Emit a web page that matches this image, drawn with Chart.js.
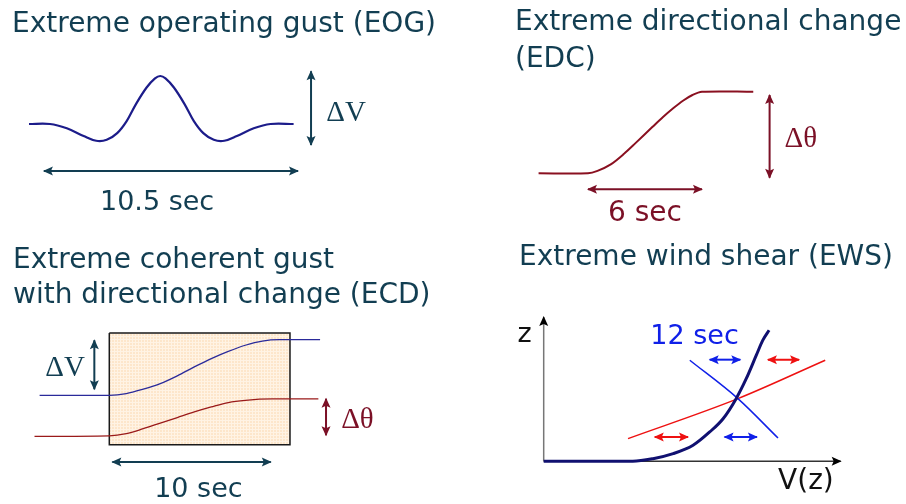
<!DOCTYPE html>
<html>
<head>
<meta charset="utf-8">
<script src="https://cdn.jsdelivr.net/npm/chart.js@4/dist/chart.umd.min.js"></script>
<style>
body { margin: 0; background: #fff; width: 906px; height: 504px; position: relative; overflow: hidden; }
canvas.panel { position: absolute; }
.title { position: absolute; font-family: "Comic Sans MS", "DejaVu Sans", sans-serif; font-size: 28px; line-height: 36px; color: #123e52; white-space: nowrap; }
</style>
</head>
<body>
<canvas id="cEog" class="panel" style="left:0;top:0" width="453" height="252"></canvas>
<canvas id="cEdc" class="panel" style="left:453px;top:0" width="453" height="252"></canvas>
<canvas id="cEcd" class="panel" style="left:0;top:252px" width="453" height="252"></canvas>
<canvas id="cEws" class="panel" style="left:453px;top:252px" width="453" height="252"></canvas>

<div class="title" style="left:12px;top:5px">Extreme operating gust (EOG)</div>
<div class="title" style="left:515px;top:2px;line-height:37px">Extreme directional change<br>(EDC)</div>
<div class="title" style="left:13px;top:241px;line-height:35px">Extreme coherent gust<br>with directional change (ECD)</div>
<div class="title" style="left:519px;top:238px">Extreme wind shear (EWS)</div>

<script>
// EOG - wind speed against time (s), relative to the gust amplitude
const eogTime = [-1, 0, 0.8, 1.6, 2.2, 2.7, 3.2, 3.65, 4.1, 4.6, 5.0, 5.25, 5.5, 5.9, 6.4, 6.85, 7.3, 7.8, 8.3, 8.9, 9.7, 10.5, 11.6];
const eogSpeed = [0, 0, -0.09, -0.25, -0.35, -0.33, -0.19, 0.06, 0.42, 0.76, 0.95, 1.0, 0.95, 0.76, 0.42, 0.06, -0.19, -0.33, -0.35, -0.25, -0.09, 0, 0];

// EDC - wind direction against time (s), relative to the change
const edcTime = [-2.6, 0, 0.5, 1.2, 1.9, 2.5, 3.4, 3.95, 4.5, 5.0, 5.5, 6.0, 8.7];
const edcAngle = [0, 0, 0.03, 0.11, 0.24, 0.37, 0.57, 0.69, 0.80, 0.89, 0.96, 1, 1];

// ECD - speed (blue) and direction (red) against time (s)
const ecdTime = [-4.1, 0, 1, 2, 3, 4, 5, 6, 7, 8, 9, 10, 12.4];
const ecdSpeed = [0, 0, 0.03, 0.11, 0.21, 0.35, 0.51, 0.66, 0.79, 0.9, 0.975, 1.0, 1.0];
const ecdDirTime = [-4.4, 0, 1, 2, 3, 4, 5, 6, 7, 8, 9.6, 12.3];
const ecdDir = [-0.74, -0.73, -0.69, -0.6, -0.5, -0.4, -0.3, -0.21, -0.13, -0.09, -0.066, -0.066];
const ecdWindowTime = [0, 10.63, 10.63, 0, 0];
const ecdWindowLevel = [1.12, 1.12, -0.89, -0.89, 1.12];

// EWS - height z against speed V(z)
const ewsSpeed = [0, 3.0, 3.68, 4.36, 5.03, 5.59, 6.04, 6.48, 6.82, 7.16, 7.38, 7.59];
const ewsHeight = [0, 0, 0.18, 0.53, 1.11, 2.03, 2.95, 4.34, 5.72, 7.35, 8.39, 9.08];
const shearBlueV = [4.92, 6.54, 7.89];
const shearBlueZ = [7.0, 4.34, 1.61];
const shearRedV = [2.84, 6.54, 9.48];
const shearRedZ = [1.57, 4.34, 7.0];

const TEAL = '#123e52';
const MAROON = '#7b1026';
const COMIC = '"Comic Sans MS", "DejaVu Sans", sans-serif';
const SERIF = '"Liberation Serif", "Times New Roman", serif';

function pts(xs, ys) {
    return xs.map((x, i) => ({ x: x, y: ys[i] }));
}

function curve(xs, ys, color, width, tension, monotone) {
    return {
        data: pts(xs, ys),
        showLine: true,
        borderColor: color,
        borderWidth: width,
        pointRadius: 0,
        tension: tension,
        cubicInterpolationMode: monotone ? 'monotone' : 'default',
        fill: false,
        clip: false
    };
}

// two point line, heads are added by the plugin below
function arrow(x1, y1, x2, y2, color, width, heads, headColor) {
    const ds = curve([x1, x2], [y1, y2], color, width, 0);
    ds.arrowHeads = heads || 'both';
    ds.headColor = headColor || color;
    return ds;
}

function head(ctx, from, to, color) {
    const ang = Math.atan2(to.y - from.y, to.x - from.x);
    const len = 9, half = 4.5;
    ctx.save();
    ctx.fillStyle = color;
    ctx.translate(to.x, to.y);
    ctx.rotate(ang);
    ctx.beginPath();
    ctx.moveTo(1, 0);
    ctx.lineTo(-len, -half);
    ctx.lineTo(-len + 2, 0);
    ctx.lineTo(-len, half);
    ctx.closePath();
    ctx.fill();
    ctx.restore();
}

const arrowPlugin = {
    id: 'arrowPlugin',
    afterDatasetsDraw(chart) {
        const ctx = chart.ctx;
        chart.data.datasets.forEach((ds, i) => {
            if (!ds.arrowHeads) return;
            const p = chart.getDatasetMeta(i).data;
            const a = { x: p[0].x, y: p[0].y };
            const b = { x: p[p.length - 1].x, y: p[p.length - 1].y };
            head(ctx, a, b, ds.headColor);
            if (ds.arrowHeads === 'both') head(ctx, b, a, ds.headColor);
        });
        const labels = chart.options.plugins.labels.items;
        labels.forEach(l => {
            ctx.save();
            ctx.font = l.font;
            ctx.fillStyle = l.color;
            ctx.textAlign = 'center';
            ctx.textBaseline = 'middle';
            ctx.fillText(l.text, chart.scales.x.getPixelForValue(l.x), chart.scales.y.getPixelForValue(l.y));
            ctx.restore();
        });
    }
};

function makeChart(id, datasets, xr, yr, labels) {
    return new Chart(document.getElementById(id), {
        type: 'scatter',
        data: { datasets: datasets },
        options: {
            responsive: false,
            animation: false,
            events: [],
            layout: { padding: 0 },
            scales: {
                x: { type: 'linear', display: false, min: xr[0], max: xr[1] },
                y: { type: 'linear', display: false, min: yr[0], max: yr[1] }
            },
            plugins: {
                legend: { display: false },
                tooltip: { enabled: false },
                labels: { items: labels }
            }
        },
        plugins: [arrowPlugin]
    });
}

// EOG
makeChart('cEog', [
    curve(eogTime, eogSpeed, '#1c1c8a', 2.2, 0.35),
    arrow(12.43, 1.10, 12.43, -0.44, TEAL, 2),
    arrow(-0.29, -0.98, 11.81, -0.98, TEAL, 2)
], [-2.381, 19.19], [-2.667, 2.583], [
    { text: 'ΔV', x: 14.1, y: 0.23, color: TEAL, font: '29px ' + SERIF },
    { text: '10.5 sec', x: 5.1, y: -1.65, color: TEAL, font: '27px ' + COMIC }
]);

// EDC
makeChart('cEdc', [
    curve(edcTime, edcAngle, '#8a1020', 2, 0.3),
    arrow(9.56, 0.96, 9.56, -0.054, MAROON, 2),
    arrow(0, -0.196, 6, -0.196, MAROON, 2)
], [-7.105, 16.74], [-0.964, 2.124], [
    { text: 'Δθ', x: 11.2, y: 0.41, color: MAROON, font: '29px ' + SERIF },
    { text: '6 sec', x: 3.0, y: -0.49, color: MAROON, font: '28px ' + COMIC }
]);

// ECD - gust window filled with a fine peach grid
const tile = document.createElement('canvas');
tile.width = 3; tile.height = 3;
const tctx = tile.getContext('2d');
tctx.fillStyle = '#fde6cb';
tctx.fillRect(0, 0, 3, 3);
tctx.fillStyle = '#fff3e4';
tctx.fillRect(0, 0, 3, 1);
tctx.fillRect(0, 0, 1, 3);
const peach = tctx.createPattern(tile, 'repeat');

const ecdWindow = curve(ecdWindowTime, ecdWindowLevel, '#1a1a1a', 1.5, 0);
ecdWindow.fill = 'shape';
ecdWindow.backgroundColor = peach;

makeChart('cEcd', [
    curve(ecdTime, ecdSpeed, '#2a2a9a', 1.3, 0.4, true),
    curve(ecdDirTime, ecdDir, '#9a1a1a', 1.3, 0.4, true),
    arrow(-0.88, 0.99, -0.88, 0.11, TEAL, 2),
    arrow(12.75, -0.06, 12.75, -0.72, MAROON, 2),
    arrow(0.18, -1.2, 9.5, -1.2, TEAL, 2),
    ecdWindow
], [-6.43, 20.22], [-1.955, 2.577], [
    { text: 'ΔV', x: -2.6, y: 0.48, color: TEAL, font: '29px ' + SERIF },
    { text: 'Δθ', x: 14.6, y: -0.45, color: MAROON, font: '29px ' + SERIF },
    { text: '10 sec', x: 5.24, y: -1.70, color: TEAL, font: '27px ' + COMIC }
]);

// EWS
makeChart('cEws', [
    curve(ewsSpeed, ewsHeight, '#101070', 3, 0.4, true),
    curve(shearBlueV, shearBlueZ, '#1020e8', 1.5, 0.4, true),
    curve(shearRedV, shearRedZ, '#ee1111', 1.5, 0.4, true),
    arrow(5.59, 7.04, 6.62, 7.04, '#1020e8', 2),
    arrow(7.55, 7.04, 8.6, 7.04, '#ee1111', 2),
    arrow(3.74, 1.68, 4.86, 1.68, '#ee1111', 2),
    arrow(6.09, 1.68, 7.18, 1.68, '#1020e8', 2),
    arrow(0, 0, 0, 10, '#777777', 1.5, 'end', '#000000'),
    arrow(0, 0, 10, 0, '#333333', 1.5, 'end', '#000000')
], [-3.054, 12.2], [-2.96, 14.5], [
    { text: 'z', x: -0.64, y: 8.73, color: '#111', font: '27px ' + COMIC },
    { text: 'V(z)', x: 8.83, y: -1.43, color: '#111', font: '28px ' + COMIC },
    { text: '12 sec', x: 5.08, y: 8.61, color: '#1020e8', font: '27px ' + COMIC }
]);
</script>
</body>
</html>
